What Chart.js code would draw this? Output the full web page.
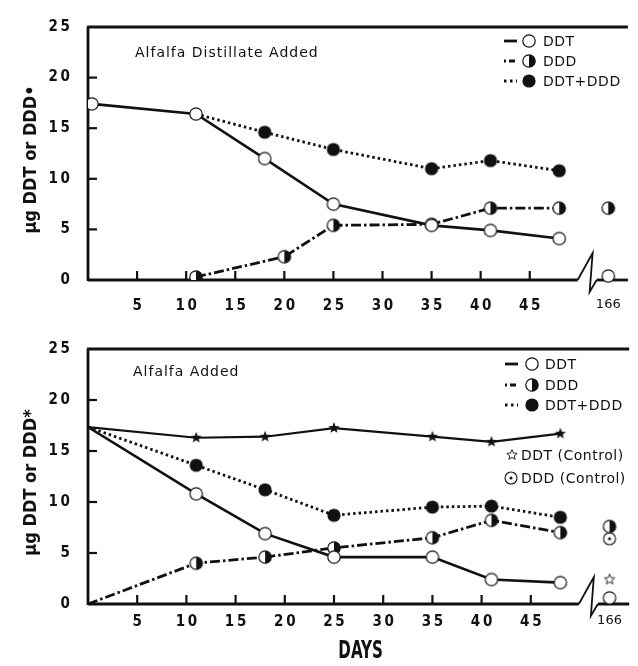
<!DOCTYPE html>
<html><head><meta charset="utf-8">
<script src="https://cdn.jsdelivr.net/npm/chart.js@4"></script>
<style>
html,body{margin:0;padding:0;background:#fff;}
#wrap{position:relative;width:638px;height:666px;overflow:hidden;background:#fff;}
canvas{position:absolute;left:0;}
</style></head><body>
<div id="wrap">
<canvas id="c1" width="638" height="320" style="top:0"></canvas>
<canvas id="c2" width="638" height="346" style="top:320px"></canvas>
</div>
<script>
// ---------- data ----------
const daysTopDDT = [0.4, 11, 18, 25, 35, 41, 48];
const topDDT     = [17.4, 16.4, 12.0, 7.5, 5.4, 4.9, 4.1];
const daysTopDDD = [11, 20, 25, 35, 41, 48];
const topDDD     = [0.3, 2.3, 5.4, 5.5, 7.1, 7.1];
const daysTopSum = [11, 18, 25, 35, 41, 48];
const topSum     = [16.4, 14.6, 12.9, 11.0, 11.8, 10.8];
const top166DDT  = [0.4];
const top166DDD  = [7.1];

const daysBot    = [0, 11, 18, 25, 35, 41, 48];
const botDDT     = [17.35, 10.8, 6.9, 4.6, 4.6, 2.4, 2.1];
const botDDD     = [0, 4.0, 4.6, 5.5, 6.5, 8.2, 7.0];
const botSum     = [17.35, 13.6, 11.2, 8.7, 9.5, 9.6, 8.5];
const botCtrlDDT = [17.35, 16.3, 16.4, 17.25, 16.4, 15.9, 16.7];
const bot166DDT     = [0.6];
const bot166DDD     = [7.6];
const bot166CtrlDDT = [2.4];
const bot166CtrlDDD = [6.4];

const lateDays = [166];
const xTicks = [5, 10, 15, 20, 25, 30, 35, 40, 45];
const yTicks = [0, 5, 10, 15, 20, 25];

// broken axis: day 166 is drawn just past the break
const BREAK_AT = 51, LATE_POS = 53;
const axisPos = d => d > 50 ? LATE_POS : d;

const INK = '#111';
const NARROW = "'Liberation Sans Narrow', 'DejaVu Sans Condensed', sans-serif";
const SANS = "'DejaVu Sans', sans-serif";
const spaced = v => String(v).split('').join('\u2009');

// ---------- marker images ----------
function mk(size, draw){ const c=document.createElement('canvas'); c.width=c.height=size; const g=c.getContext('2d'); draw(g,size/2); return c; }
function starPath(g,cx,cy,R,r){ g.beginPath(); for(let i=0;i<10;i++){ const a=-Math.PI/2+i*Math.PI/5, rr=i%2?r:R; g.lineTo(cx+rr*Math.cos(a), cy+rr*Math.sin(a)); } g.closePath(); }
const mOpen = mk(16,(g,c)=>{ g.beginPath(); g.arc(c,c,6.2,0,2*Math.PI); g.fillStyle='#fff'; g.fill(); g.lineWidth=1.2; g.strokeStyle=INK; g.stroke(); });
const mHalf = mk(16,(g,c)=>{ g.beginPath(); g.arc(c,c,6.2,0,2*Math.PI); g.fillStyle='#fff'; g.fill();
  g.beginPath(); g.arc(c,c,6.2,-Math.PI/2,Math.PI/2); g.closePath(); g.fillStyle=INK; g.fill();
  g.beginPath(); g.arc(c,c,6.2,0,2*Math.PI); g.lineWidth=1.2; g.strokeStyle=INK; g.stroke(); });
const mFull = mk(16,(g,c)=>{ g.beginPath(); g.arc(c,c,6.6,0,2*Math.PI); g.fillStyle=INK; g.fill(); });
const mStar = mk(16,(g,c)=>{ starPath(g,c,c,6,2.5); g.fillStyle=INK; g.fill(); });
const mStarOpen = mk(14,(g,c)=>{ starPath(g,c,c,5.4,2.4); g.fillStyle='#fff'; g.fill(); g.lineWidth=0.9; g.strokeStyle=INK; g.stroke(); });
const mDot = mk(16,(g,c)=>{ g.beginPath(); g.arc(c,c,6.0,0,2*Math.PI); g.fillStyle='#fff'; g.fill(); g.lineWidth=1.1; g.strokeStyle=INK; g.stroke();
  g.beginPath(); g.arc(c,c,1.5,0,2*Math.PI); g.fillStyle=INK; g.fill(); });

const pts = (xs, ys) => xs.map((x,i)=>({x: axisPos(x), y: ys[i]}));

const DASH_DDD = [10,3,2.5,3], DASH_SUM = [2.5,3];

function lineDs(data, img, dash, width, opts={}) {
  return Object.assign({ data, borderColor: INK, backgroundColor: INK, borderWidth: width, borderDash: dash,
    pointStyle: img, pointRadius: 6, tension: 0, fill: false }, opts);
}
function lateDs(xs, ys, img){
  return { data: pts(xs, ys), showLine: false, pointStyle: img, pointRadius: 6, clip: false, borderColor: INK };
}

// ---------- frame / text plugin ----------
function framePlugin(cfg){
  return {
    id: 'frame',
    beforeDatasetsDraw(chart){
      const {ctx, chartArea:a, scales:{x,y}} = chart;
      ctx.save(); ctx.strokeStyle = INK; ctx.lineCap = 'butt';
      ctx.lineWidth = 2.8;
      ctx.beginPath(); ctx.moveTo(a.left-1, a.top); ctx.lineTo(a.right, a.top); ctx.stroke();
      ctx.beginPath(); ctx.moveTo(a.left, a.top); ctx.lineTo(a.left, a.bottom+1); ctx.stroke();
      const bx = x.getPixelForValue(BREAK_AT), yb = a.bottom;
      ctx.beginPath(); ctx.moveTo(a.left, yb); ctx.lineTo(bx-11, yb); ctx.stroke();
      ctx.lineWidth = 1.8;
      ctx.beginPath(); ctx.moveTo(bx-11, yb); ctx.lineTo(bx+4, yb-27); ctx.lineTo(bx+1, yb+12); ctx.lineTo(bx+8, yb); ctx.stroke();
      ctx.lineWidth = 2.8;
      ctx.beginPath(); ctx.moveTo(bx+8, yb); ctx.lineTo(a.right, yb); ctx.stroke();
      ctx.lineWidth = 2.2;
      yTicks.filter(v => v > 0 && v < 25).forEach(v => { const p = y.getPixelForValue(v);
        ctx.beginPath(); ctx.moveTo(a.left, p); ctx.lineTo(a.left+9, p); ctx.stroke(); });
      xTicks.forEach(v => { const p = x.getPixelForValue(v);
        ctx.beginPath(); ctx.moveTo(p, yb); ctx.lineTo(p, yb-9); ctx.stroke(); });
      ctx.restore();
    },
    afterDraw(chart){
      const {ctx, chartArea:a} = chart;
      ctx.save(); ctx.fillStyle = INK; ctx.strokeStyle = INK;
      // panel title
      ctx.font = '14px ' + SANS; ctx.textBaseline = 'middle'; ctx.textAlign = 'left';
      ctx.letterSpacing = '1px';
      ctx.fillText(cfg.title, cfg.titleX, cfg.titleY);
      ctx.letterSpacing = '0.5px';
      // legend
      cfg.legend.forEach(r => {
        if (r.dash) { ctx.save(); ctx.setLineDash(r.dash); ctx.lineWidth = r.w; ctx.beginPath();
          ctx.moveTo(r.lx, r.y); ctx.lineTo(r.lx+13, r.y); ctx.stroke(); ctx.restore(); }
        ctx.drawImage(r.img, r.mx - r.img.width/2, r.y - r.img.height/2);
        ctx.fillText(r.text, r.tx, r.y+1);
      });
      // y-axis title
      ctx.save(); ctx.translate(31, (a.top + a.bottom)/2 + 6); ctx.rotate(-Math.PI/2);
      ctx.font = 'bold 18px ' + NARROW; ctx.textAlign = 'center'; ctx.letterSpacing = '0px';
      ctx.fillText(cfg.yTitle, 0, 0); ctx.restore();
      // x-axis title
      if (cfg.xTitle) {
        ctx.save(); ctx.translate((a.left + a.right)/2 + 2, a.bottom + 48); ctx.scale(0.7, 1);
        ctx.font = 'bold 24px ' + NARROW; ctx.textAlign = 'center'; ctx.letterSpacing = '0px';
        ctx.fillText(cfg.xTitle, 0, 0); ctx.restore();
      }
      ctx.restore();
    }
  };
}

const tickFont = { family: NARROW, size: 15, weight: 'bold' };

function makeOptions(cfg){
  return {
    responsive: false, animation: false, events: [],
    layout: { padding: { top: cfg.top, right: 0, left: 0, bottom: 0 } },
    plugins: { legend: { display: false }, tooltip: { enabled: false } },
    scales: {
      x: { type: 'linear', min: 0, max: 55,
        grid: { display: false, drawTicks: false }, border: { display: false },
        afterBuildTicks: s => { s.ticks = xTicks.concat([axisPos(lateDays[0])]).map(v => ({ value: v })); },
        afterFit: s => { s.height = cfg.xH; },
        ticks: { padding: cfg.xPad, color: INK, autoSkip: false, maxRotation: 0, minRotation: 0,
          font: c => (c.tick && c.tick.value === LATE_POS) ? { family: SANS, size: 13 } : tickFont,
          callback: v => v === LATE_POS ? String(lateDays[0]) : spaced(v) } },
      y: { type: 'linear', min: 0, max: 25,
        grid: { display: false, drawTicks: false }, border: { display: false },
        afterBuildTicks: s => { s.ticks = yTicks.map(v => ({ value: v })); },
        afterFit: s => { s.width = 88; },
        ticks: { padding: 18, color: INK, font: tickFont, callback: v => spaced(v) } }
    }
  };
}

// ---------- top panel ----------
new Chart(document.getElementById('c1'), {
  type: 'line',
  data: { datasets: [
    lineDs(pts(daysTopDDT, topDDT), mOpen, [], 2.6),
    lineDs(pts(daysTopDDD, topDDD), mHalf, DASH_DDD, 2.8),
    lineDs(pts(daysTopSum, topSum), mFull, DASH_SUM, 2.8, { pointRadius: c => c.dataIndex === 0 ? 0 : 6 }),
    lateDs(lateDays, top166DDT, mOpen),
    lateDs(lateDays, top166DDD, mHalf)
  ]},
  options: makeOptions({ top: 25, xH: 40, xPad: 17 }),
  plugins: [framePlugin({
    title: 'Alfalfa Distillate Added', titleX: 135, titleY: 53,
    yTitle: 'µg DDT or DDD•',
    legend: [
      { lx: 504, mx: 529, tx: 543, y: 41, dash: [], w: 2.8, img: mOpen, text: 'DDT' },
      { lx: 504, mx: 529, tx: 543, y: 61, dash: [2,3,6,2], w: 2.8, img: mHalf, text: 'DDD' },
      { lx: 504, mx: 529, tx: 543, y: 81, dash: [2.5,3.5], w: 2.8, img: mFull, text: 'DDT+DDD' }
    ]
  })]
});

// ---------- bottom panel ----------
new Chart(document.getElementById('c2'), {
  type: 'line',
  data: { datasets: [
    lineDs(pts(daysBot, botDDT), mOpen, [], 2.6, { pointRadius: c => c.dataIndex === 0 ? 0 : 6 }),
    lineDs(pts(daysBot, botDDD), mHalf, DASH_DDD, 2.8, { pointRadius: c => c.dataIndex === 0 ? 0 : 6 }),
    lineDs(pts(daysBot, botSum), mFull, DASH_SUM, 2.8, { pointRadius: c => c.dataIndex === 0 ? 0 : 6 }),
    lineDs(pts(daysBot, botCtrlDDT), mStar, [], 2.2, { pointRadius: c => c.dataIndex === 0 ? 0 : 5 }),
    lateDs(lateDays, bot166DDT, mOpen),
    lateDs(lateDays, bot166DDD, mHalf),
    lateDs(lateDays, bot166CtrlDDT, mStarOpen),
    lateDs(lateDays, bot166CtrlDDD, mDot)
  ]},
  options: makeOptions({ top: 29, xH: 62, xPad: 9 }),
  plugins: [framePlugin({
    title: 'Alfalfa Added', titleX: 133, titleY: 52,
    yTitle: 'µg DDT or DDD*', xTitle: 'DAYS',
    legend: [
      { lx: 505, mx: 532, tx: 545, y: 44, dash: [], w: 2.8, img: mOpen, text: 'DDT' },
      { lx: 505, mx: 532, tx: 545, y: 65, dash: [2,3,6,2], w: 2.8, img: mHalf, text: 'DDD' },
      { lx: 505, mx: 532, tx: 545, y: 85, dash: [2.5,3.5], w: 2.8, img: mFull, text: 'DDT+DDD' },
      { mx: 512, tx: 521, y: 135, img: mStarOpen, text: 'DDT (Control)' },
      { mx: 511, tx: 521, y: 158, img: mDot, text: 'DDD (Control)' }
    ]
  })]
});
</script>
</body></html>
